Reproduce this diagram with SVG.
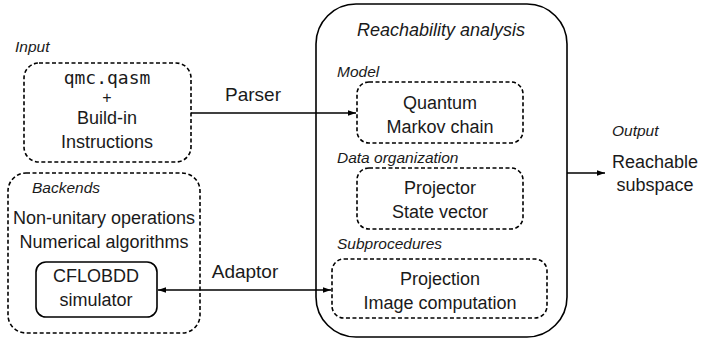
<svg xmlns="http://www.w3.org/2000/svg" width="712" height="341" viewBox="0 0 712 341">
<defs>
<style>
.dash{fill:none;stroke:#000;stroke-width:1.6;stroke-dasharray:4,2.5}
.solid{fill:none;stroke:#000;stroke-width:1.6}
.t{font-family:"Liberation Sans",Arial,sans-serif;font-size:18px;fill:#1a1a1a;text-anchor:middle}
.l{font-family:"Liberation Sans",Arial,sans-serif;font-size:15.5px;font-style:italic;fill:#1a1a1a}
.m{font-family:"DejaVu Sans Mono",monospace;font-size:18px;fill:#1a1a1a;text-anchor:middle}
.c{fill:none;stroke:#000;stroke-width:1.4}
</style>
<marker id="ah" viewBox="0 0 10 10" refX="10" refY="5" markerWidth="8" markerHeight="8" markerUnits="userSpaceOnUse" orient="auto-start-reverse">
<path d="M0,1.5 L10,5 L0,8.5 z" fill="#000"/>
</marker>
</defs>
<rect width="712" height="341" fill="#fff"/>

<g id="input">
<text class="l" x="15" y="52">Input</text>
<rect class="dash" x="24" y="63" width="167" height="99" rx="15"/>
<text class="m" x="107" y="84">qmc.qasm</text>
<text class="t" x="107" y="103" style="font-size:16px">+</text>
<text class="t" x="107" y="124">Build-in</text>
<text class="t" x="107" y="148">Instructions</text>
</g>

<g id="backends">
<rect class="dash" x="8" y="173" width="192" height="160" rx="18"/>
<text class="l" x="32" y="193">Backends</text>
<text class="t" x="104" y="224">Non-unitary operations</text>
<text class="t" x="104" y="248">Numerical algorithms</text>
</g>

<g id="cflobdd">
<rect class="solid" x="36" y="262" width="121" height="55" rx="10"/>
<text class="t" x="96" y="282">CFLOBDD</text>
<text class="t" x="96" y="306">simulator</text>
</g>

<g id="reachability">
<rect class="solid" x="316" y="4" width="251" height="333" rx="40"/>
<text class="l" x="441" y="36" style="font-size:18px;text-anchor:middle">Reachability analysis</text>
</g>

<g id="model">
<text class="l" x="337" y="77">Model</text>
<rect class="dash" x="357" y="82" width="166" height="61" rx="12"/>
<text class="t" x="440" y="109">Quantum</text>
<text class="t" x="440" y="133">Markov chain</text>
</g>

<g id="data">
<text class="l" x="337" y="163">Data organization</text>
<rect class="dash" x="357" y="168" width="166" height="61" rx="12"/>
<text class="t" x="440" y="194">Projector</text>
<text class="t" x="440" y="218">State vector</text>
</g>

<g id="sub">
<text class="l" x="337" y="249">Subprocedures</text>
<rect class="dash" x="332" y="259" width="215" height="59" rx="12"/>
<text class="t" x="440" y="285">Projection</text>
<text class="t" x="440" y="309">Image computation</text>
</g>

<g id="output">
<text class="l" x="612" y="136">Output</text>
<text class="t" x="655" y="168">Reachable</text>
<text class="t" x="655" y="191">subspace</text>
</g>

<g id="connectors">
<line class="c" x1="191" y1="113" x2="356" y2="113" marker-end="url(#ah)"/>
<text class="t" x="253" y="101" style="font-size:19px">Parser</text>
<line class="c" x1="158" y1="290" x2="331" y2="290" marker-start="url(#ah)" marker-end="url(#ah)"/>
<text class="t" x="245" y="278" style="font-size:19px">Adaptor</text>
<line class="c" x1="567" y1="173" x2="605" y2="173" marker-end="url(#ah)"/>
</g>
</svg>
